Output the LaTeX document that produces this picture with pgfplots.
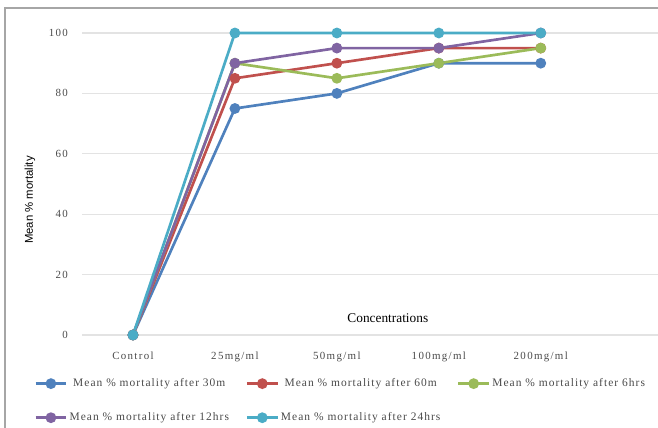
\documentclass[border=0pt]{standalone}
\usepackage{fontspec}
\setmainfont{Liberation Serif}
\newfontfamily\arial{Liberation Sans}
\newfontfamily\spaced[LetterSpace=12]{Liberation Serif}
\newfontfamily\legspaced[LetterSpace=9]{Liberation Serif}
\usepackage{pgfplots}
\pgfplotsset{compat=1.18}
\definecolor{c1}{HTML}{4F81BD}
\definecolor{c2}{HTML}{C0504D}
\definecolor{c3}{HTML}{9BBB59}
\definecolor{c4}{HTML}{8064A2}
\definecolor{c5}{HTML}{4BACC6}
\definecolor{tickgray}{HTML}{4A4A4A}
\begin{document}
\begin{tikzpicture}
\useasboundingbox (-61.5pt,-69.75pt) rectangle (432pt,251.25pt);
\draw[gray!70, line width=0.8pt] (-57.75pt,-80pt) -- (-57.75pt,245.25pt) -- (440pt,245.25pt);
\begin{axis}[
  at={(0,0)}, anchor=south west,
  width=432pt, height=226.5pt, scale only axis,
  xmin=-0.5, xmax=5.15, ymin=0, ymax=100,
  ytick={0,20,...,100},
  xtick={0,1,2,3,4},
  xticklabels={Control,25mg/ml,50mg/ml,100mg/ml,200mg/ml},
  axis line style={draw=none},
  major tick length=0pt,
  ymajorgrids,
  grid style={color=gray!22, line width=0.8pt},
  /pgf/number format/assume math mode=true,
  tick label style={font=\spaced\fontsize{8.2}{9}\selectfont, text=tickgray},
  yticklabel style={xshift=-7pt},
  xticklabel style={yshift=-9pt},
  ylabel={Mean \% mortality},
  ylabel style={at={(axis description cs:-0.0903,0.447)}, anchor=center, font=\arial\fontsize{8.5}{10}\selectfont},
  every axis plot/.append style={line width=2pt, mark=*, mark size=3pt},
  legend columns=3,
  legend style={at={(0,0)}, anchor=north west, xshift=-36pt, yshift=-30.5pt, draw=none, fill=none,
    font=\legspaced\fontsize{8.6}{9}\selectfont, text=tickgray, row sep=14pt, inner sep=0pt,
    nodes={inner xsep=1.5pt},
    /tikz/every even column/.append style={column sep=11pt}},
  legend image code/.code={
    \draw[#1, mark=none] (0pt,0pt) -- (23pt,0pt);
    \draw[#1, only marks] plot coordinates {(11.5pt,0pt)};
  },
  clip=false,
]
\addplot[color=c1] coordinates {(0,0) (1,75) (2,80) (3,90) (4,90)};
\addlegendentry{Mean \% mortality after 30m}
\addplot[color=c2] coordinates {(0,0) (1,85) (2,90) (3,95) (4,95)};
\addlegendentry{Mean \% mortality after 60m}
\addplot[color=c3] coordinates {(0,0) (1,90) (2,85) (3,90) (4,95)};
\addlegendentry{Mean \% mortality after 6hrs}
\addplot[color=c4] coordinates {(0,0) (1,90) (2,95) (3,95) (4,100)};
\addlegendentry{Mean \% mortality after 12hrs}
\addplot[color=c5] coordinates {(0,0) (1,100) (2,100) (3,100) (4,100)};
\addlegendentry{Mean \% mortality after 24hrs}
\node[font=\fontsize{10}{11}\selectfont] at (axis cs:2.5,5.6) {Concentrations};
\end{axis}
\end{tikzpicture}
\end{document}
